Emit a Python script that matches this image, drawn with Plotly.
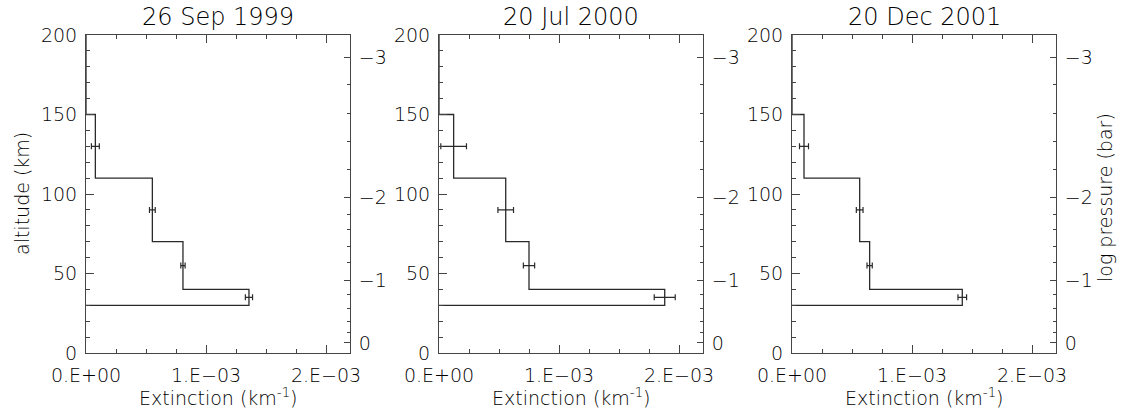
import plotly.graph_objects as go

# ---------------- data ----------------
titles = ["26 Sep 1999", "20 Jul 2000", "20 Dec 2001"]
layer_bounds = [150, 110, 70, 40, 30]          # km, layer edges (top of profile at 200 km)
top_altitude = 200
mid_altitudes = [130, 90, 55, 35]              # km, error-bar positions

ext_1999 = [0.078e-3, 0.553e-3, 0.808e-3, 1.358e-3]
err_1999 = [0.033e-3, 0.024e-3, 0.018e-3, 0.030e-3]
ext_2000 = [0.122e-3, 0.556e-3, 0.750e-3, 1.881e-3]
err_2000 = [0.107e-3, 0.065e-3, 0.047e-3, 0.0875e-3]
ext_2001 = [0.100e-3, 0.564e-3, 0.647e-3, 1.419e-3]
err_2001 = [0.0375e-3, 0.028e-3, 0.022e-3, 0.036e-3]

x_tickvals = [0, 1e-3, 2e-3]
x_ticktext = ["0.E+00", "1.E\u221203", "2.E\u221203"]

# log pressure axis (right): log p (bar) and the matching altitude (km)
logp_major = ["\u22123", "\u22122", "\u22121", "0"]
logp_major_alt = [185.7, 97.9, 45.9, 6.3]
logp_minor_alt = [168.6, 150.8, 133.3, 115.5, 87.4, 77.4, 66.9, 56.8,
                  36.5, 28.1, 20.1, 12.6]

# ---------------- layout helpers ----------------
W, H = 1121, 413
panel_px = [(86, 350), (439, 703), (792, 1056)]
y_top_px, y_bot_px = 35, 353
ydom = [(H - y_bot_px) / H, (H - y_top_px) / H]

FONT = "DejaVu Sans"
WT = 300
TXT = "#000000"
AX = "#444444"
LINE = "#2a2a2a"

exts = [ext_1999, ext_2000, ext_2001]
errs = [err_1999, err_2000, err_2001]

fig = go.Figure()
layout = dict(
    template="none",
    width=W, height=H, autosize=False,
    margin=dict(l=0, r=0, t=0, b=0, pad=0, autoexpand=False),
    paper_bgcolor="white", plot_bgcolor="white",
    showlegend=False,
    font=dict(family=FONT, size=19, color=TXT, weight=WT),
)
annotations = []

def tf(size=19):
    return dict(size=size, color=TXT, family=FONT, weight=WT)

for i in range(3):
    xa = "x" if i == 0 else f"x{i+1}"
    ya_l = "y" if i == 0 else f"y{3*i+1}"
    ya_r = f"y{3*i+2}"
    ya_m = f"y{3*i+3}"
    xkey = "xaxis" if i == 0 else f"xaxis{i+1}"
    ykey_l = "yaxis" if i == 0 else f"yaxis{3*i+1}"
    ykey_r = f"yaxis{3*i+2}"
    ykey_m = f"yaxis{3*i+3}"

    e = exts[i]
    # step profile
    sx = [0, 0]
    sy = [top_altitude, layer_bounds[0]]
    for k in range(4):
        sx += [e[k], e[k]]
        sy += [layer_bounds[k], layer_bounds[k + 1]]
    sx += [0]
    sy += [layer_bounds[-1]]
    fig.add_trace(go.Scatter(x=sx, y=sy, mode="lines",
                             line=dict(color=LINE, width=1.3),
                             xaxis=xa, yaxis=ya_l, hoverinfo="skip",
                             cliponaxis=False))
    fig.add_trace(go.Scatter(x=e, y=mid_altitudes, mode="markers",
                             marker=dict(size=1, color=LINE),
                             error_x=dict(type="data", array=errs[i], visible=True,
                                          color=LINE, thickness=1.2, width=3),
                             xaxis=xa, yaxis=ya_l, hoverinfo="skip"))
    # invisible anchors so the right-hand (log pressure) axes get drawn
    for ya in (ya_r, ya_m):
        fig.add_trace(go.Scatter(x=[None], y=[None], mode="markers",
                                 xaxis=xa, yaxis=ya, hoverinfo="skip"))

    x0, x1 = panel_px[i]
    layout[xkey] = dict(
        domain=[x0 / W, x1 / W], anchor=ya_l, range=[0, 2.2e-3], automargin=False,
        showline=True, linecolor=AX, linewidth=1, mirror="ticks",
        ticks="inside", ticklen=8, tickwidth=1, tickcolor=AX,
        tickvals=x_tickvals, ticktext=x_ticktext,
        minor=dict(ticks="inside", ticklen=4, tickcolor=AX, dtick=0.25e-3, tick0=0, showgrid=False),
        showgrid=False, zeroline=False, ticklabelstandoff=5,
        tickfont=tf(), fixedrange=True,
    )
    layout[ykey_l] = dict(
        domain=ydom, anchor=xa, range=[0, 200], automargin=False,
        showline=True, linecolor=AX, linewidth=1, mirror=False,
        ticks="inside", ticklen=8, tickwidth=1, tickcolor=AX,
        tickvals=[0, 50, 100, 150, 200],
        minor=dict(ticks="inside", ticklen=4, tickcolor=AX, dtick=10, tick0=0, showgrid=False),
        showgrid=False, zeroline=False, ticklabelstandoff=4,
        tickfont=tf(), fixedrange=True,
    )
    layout[ykey_r] = dict(
        domain=ydom, anchor=xa, overlaying=ya_l, side="right", range=[0, 200], automargin=False,
        showline=True, linecolor=AX, linewidth=1,
        ticks="inside", ticklen=6, tickwidth=1, tickcolor=AX,
        tickvals=logp_major_alt, ticktext=logp_major,
        showgrid=False, zeroline=False, ticklabelstandoff=4,
        tickfont=tf(), fixedrange=True,
    )
    layout[ykey_m] = dict(
        domain=ydom, anchor=xa, overlaying=ya_l, side="right", range=[0, 200], automargin=False,
        showline=False, ticks="inside", ticklen=3, tickwidth=1, tickcolor=AX,
        tickvals=logp_minor_alt, showticklabels=False,
        showgrid=False, zeroline=False, fixedrange=True,
    )

    cx = (x0 + x1) / 2 / W
    annotations.append(dict(text=titles[i], x=cx, y=(H - 17) / H, xref="paper", yref="paper",
                            showarrow=False, font=tf(24),
                            xanchor="center", yanchor="middle"))
    annotations.append(dict(text="Extinction (km<sup>-1</sup>)", x=cx, y=(H - 397) / H,
                            xref="paper", yref="paper", showarrow=False,
                            font=tf(19), xanchor="center", yanchor="middle"))

annotations.append(dict(text="altitude (km)", x=22 / W, y=(H - 194) / H, xref="paper", yref="paper",
                        showarrow=False, textangle=-90, font=tf(19),
                        xanchor="center", yanchor="middle"))
annotations.append(dict(text="log pressure (bar)", x=1105 / W, y=(H - 198) / H, xref="paper", yref="paper",
                        showarrow=False, textangle=-90, font=tf(19),
                        xanchor="center", yanchor="middle"))
layout["annotations"] = annotations

fig.update_layout(**layout)
fig.write_html("out.html", config={"displayModeBar": False})
